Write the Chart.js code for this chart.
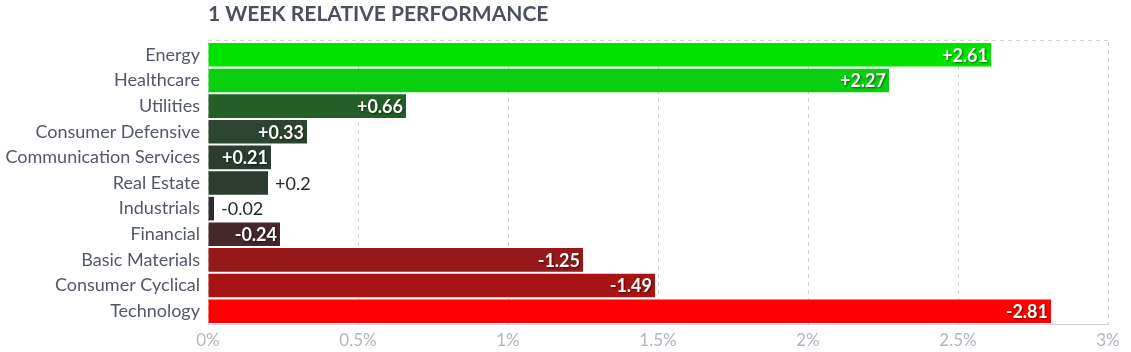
<!DOCTYPE html>
<html>
<head>
<meta charset="utf-8">
<script src="https://cdn.jsdelivr.net/npm/chart.js@4.4.0/dist/chart.umd.min.js"></script>
<style>
    html, body { margin: 0; padding: 0; background: #fff; }
    #wrap { position: relative; width: 1131px; height: 352px; }
    #title {
        position: absolute; left: 208px; top: 0px;
        font: bold 21px Lato, sans-serif; color: #4b505e;
    }
</style>
</head>
<body>
<div id="wrap">
    <div id="title">1 WEEK RELATIVE PERFORMANCE</div>
    <canvas id="perf_chart" width="1131" height="352"></canvas>
</div>
<script>
const sectors = ['Energy', 'Healthcare', 'Utilities', 'Consumer Defensive', 'Communication Services',
    'Real Estate', 'Industrials', 'Financial', 'Basic Materials', 'Consumer Cyclical', 'Technology'];
const changes = [2.61, 2.27, 0.66, 0.33, 0.21, 0.2, -0.02, -0.24, -1.25, -1.49, -2.81];
const barColors = ['#00e400', '#08cf10', '#235f27', '#2b4630', '#2c3d2f', '#2c3d2f',
    '#2f2a2b', '#45282a', '#961819', '#a81314', '#ff0000'];
const xTicks = [0, 0.5, 1, 1.5, 2, 2.5, 3];

const gridColor = '#d3d3d8';

// value labels: inside the bar (white) or just after it (dark) when the bar is too short
const valueLabels = {
    id: 'valueLabels',
    afterDatasetsDraw(chart) {
        const ctx = chart.ctx;
        const meta = chart.getDatasetMeta(0);
        ctx.save();
        ctx.textBaseline = 'middle';
        meta.data.forEach((bar, i) => {
            const v = changes[i];
            const text = (v > 0 ? '+' : '') + v;
            const w = bar.x - bar.base;
            if (w < 62) {
                ctx.font = '18px Lato, sans-serif';
                ctx.fillStyle = '#262a27';
                ctx.textAlign = 'left';
                ctx.fillText(text, bar.x + 7, bar.y + 1);
            } else {
                ctx.font = 'bold 18px Lato, sans-serif';
                ctx.shadowColor = 'rgba(0,0,0,0.55)';
                ctx.shadowBlur = 2;
                ctx.shadowOffsetX = 1;
                ctx.shadowOffsetY = 1;
                ctx.fillStyle = '#ffffff';
                ctx.textAlign = 'right';
                ctx.fillText(text, bar.x - 3, bar.y + 1);
                ctx.shadowColor = 'transparent';
            }
        });
        ctx.restore();
    }
};

// dashed line along the top of the plot
const topBorder = {
    id: 'topBorder',
    beforeDatasetsDraw(chart) {
        const { ctx, chartArea } = chart;
        ctx.save();
        ctx.strokeStyle = gridColor;
        ctx.setLineDash([4, 4]);
        ctx.lineWidth = 1;
        ctx.beginPath();
        ctx.moveTo(chartArea.left, chartArea.top - 1.5);
        ctx.lineTo(chartArea.right, chartArea.top - 1.5);
        ctx.stroke();
        ctx.restore();
    }
};

new Chart(document.getElementById('perf_chart'), {
    type: 'bar',
    data: {
        labels: sectors,
        datasets: [{
            data: changes.map(v => Math.abs(v)),
            backgroundColor: barColors,
            barPercentage: 0.92,
            categoryPercentage: 1
        }]
    },
    options: {
        indexAxis: 'y',
        responsive: false,
        animation: false,
        layout: { padding: { top: 42, right: 23, left: 0, bottom: 0 } },
        plugins: {
            legend: { display: false },
            tooltip: { enabled: false }
        },
        scales: {
            x: {
                min: 0,
                max: 3,
                afterBuildTicks: axis => { axis.ticks = xTicks.map(v => ({ value: v })); },
                afterFit: scale => { scale.height = 28; },
                ticks: {
                    color: '#b3b5bd',
                    font: { family: 'Lato', size: 17, lineHeight: 1.15 },
                    padding: 7,
                    maxRotation: 0,
                    callback: value => value + '%'
                },
                grid: { color: gridColor, drawTicks: false },
                border: { display: true, color: gridColor, dash: [4, 4] }
            },
            y: {
                afterFit: scale => { scale.width = 208; },
                ticks: {
                    color: '#535868',
                    font: { family: 'Lato', size: 18 },
                    padding: 0
                },
                grid: { display: false },
                border: { display: false }
            }
        }
    },
    plugins: [valueLabels, topBorder]
});
</script>
</body>
</html>
